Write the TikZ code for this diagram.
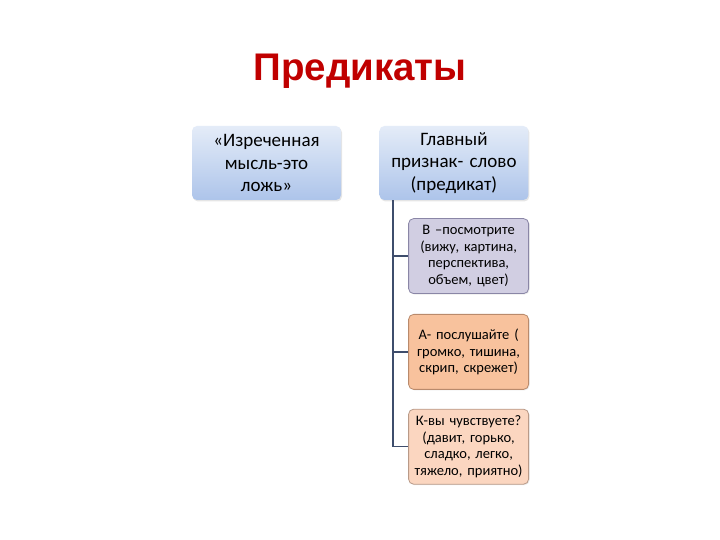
\documentclass[tikz,border=0pt]{standalone}
\usepackage{fontspec}
\setmainfont{Carlito}
\newfontfamily\titlefont{Liberation Sans}
\usetikzlibrary{positioning,shadows}
\usepackage{xcolor}
\definecolor{titlered}{HTML}{C00000}
\definecolor{boxtop}{HTML}{E4ECF8}
\definecolor{boxbottom}{HTML}{ADC4EA}
\definecolor{trunkblue}{HTML}{3E4D6C}
\definecolor{lilacfill}{HTML}{D1CEE2}
\definecolor{lilacdraw}{HTML}{8A86A6}
\definecolor{orangefill}{HTML}{F8C29D}
\definecolor{orangedraw}{HTML}{B98A6C}
\definecolor{peachfill}{HTML}{FBD6C0}
\definecolor{peachdraw}{HTML}{B99A88}

\begin{document}
\begin{tikzpicture}[x=1pt, y=1pt, node distance=20pt]
\tikzset{
    topbox/.style={rectangle, rounded corners=5pt, top color=boxtop, bottom color=boxbottom, draw=none, minimum width=149pt, minimum height=74pt, text width=145pt, align=center, inner sep=1pt, font=\fontsize{19}{22.5}\selectfont, drop shadow={opacity=0.2, shadow xshift=1pt, shadow yshift=-1.5pt}},
    childbox/.style={rectangle, rounded corners=5pt, thick, minimum width=120pt, minimum height=75pt, text width=118pt, align=center, inner sep=1pt, font=\fontsize{14.5}{16.5}\selectfont, drop shadow={opacity=0.15, shadow xshift=1pt, shadow yshift=-1pt}},
    branch/.style={draw=trunkblue, line width=1.6pt}
}
\useasboundingbox[fill=white] (0,0) rectangle (720,540);

\node[font=\titlefont\bfseries\fontsize{38.5}{40}\selectfont, text=titlered] (title) at (360,469) {Предикаты};

\node[topbox] (quote) at (266.5,377) {«Изреченная\\мысль-это\\ложь»};
\node[topbox, right=38pt of quote] (main) {Главный\\признак- слово\\(предикат)};

\node[childbox, fill=lilacfill, draw=lilacdraw, below right=18pt and 29pt of main.south west] (see) {В –посмотрите\\(вижу, картина,\\перспектива,\\объем, цвет)};
\node[childbox, fill=orangefill, draw=orangedraw, below=20pt of see] (hear) {А- послушайте (\\громко, тишина,\\скрип, скрежет)};
\node[childbox, fill=peachfill, draw=peachdraw, below=19pt of hear] (feel) {К-вы чувствуете?\\(давит, горько,\\сладко, легко,\\тяжело, приятно)};

% trunk line runs down the left of the child boxes
\coordinate[right=14pt of main.south west] (trunk);
\draw[branch] (trunk) |- (see.west);
\draw[branch] (trunk) |- (hear.west);
\draw[branch] (trunk) |- (feel.west);

\end{tikzpicture}
\end{document}
